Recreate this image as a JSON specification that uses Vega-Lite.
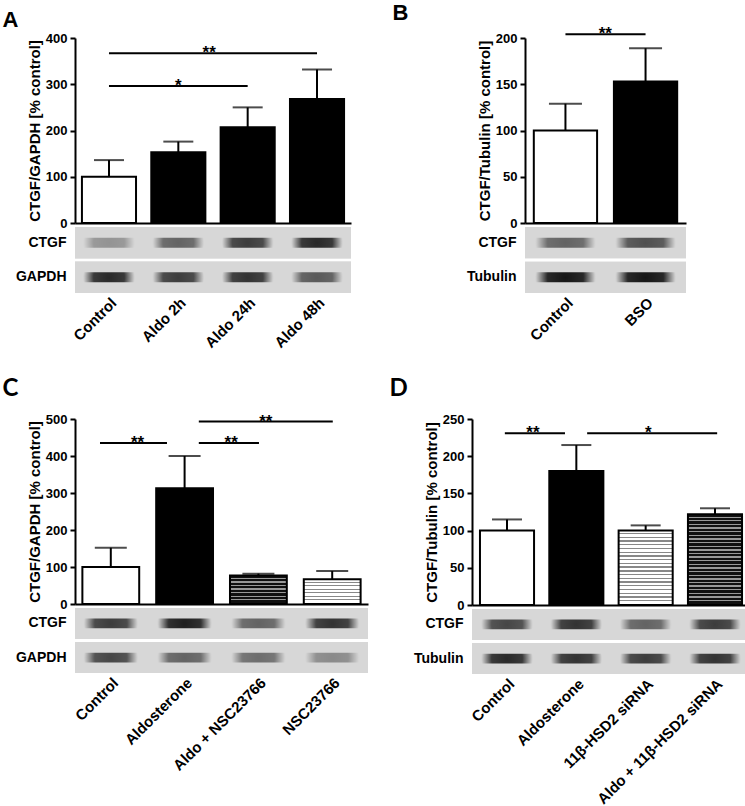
{
"$schema": "https://vega.github.io/schema/vega-lite/v6.json",
"background": "white",
"padding": {"left": 2, "top": 2, "right": 0, "bottom": 0},
"config": {
  "font": "Liberation Sans",
  "view": {"stroke": null},
  "axis": {"labelFont": "Liberation Sans", "labelFontWeight": "bold", "labelColor": "#000", "labelFontSize": 13, "titleFont": "Liberation Sans", "titleFontWeight": "bold", "titleColor": "#000", "titleFontSize": 15, "domainColor": "#000", "tickColor": "#000", "domainWidth": 2, "tickWidth": 2, "tickSize": 5, "grid": false},
  "title": {"font": "Liberation Sans", "fontWeight": "bold", "fontSize": 22, "anchor": "start", "color": "#000"}
},
"spacing": 25,
"vconcat": [
 {"spacing": 41, "hconcat": [
  {"title": {"text": "A", "dx": -13, "offset": 0}, "spacing": 4, "bounds": "flush", "vconcat": [
   {"width": 276, "height": 185,
    "data": {"values": [
      {"group": "Control", "value": 100, "err": 136},
      {"group": "Aldo 2h", "value": 153, "err": 176},
      {"group": "Aldo 24h", "value": 207, "err": 250},
      {"group": "Aldo 48h", "value": 268, "err": 332}]},
    "encoding": {
      "x": {"field": "group", "type": "nominal", "sort": null, "scale": {"domain": ["Control", "Aldo 2h", "Aldo 24h", "Aldo 48h"], "paddingInner": 0.22, "paddingOuter": 0.1}, "axis": {"labels": false, "ticks": false, "title": null}},
      "y": {"field": "value", "type": "quantitative", "title": "CTGF/GAPDH [% control]", "scale": {"domain": [0, 400], "nice": false}, "axis": {"values": [0, 100, 200, 300, 400], "labelPadding": 3, "titlePadding": 3}}
    },
    "layer": [
      {"transform": [{"filter": {"field": "group", "equal": "Control"}}], "mark": {"type": "bar", "fill": "white", "stroke": "black", "strokeWidth": 2}},
      {"transform": [{"filter": {"field": "group", "oneOf": ["Aldo 2h", "Aldo 24h", "Aldo 48h"]}}], "mark": {"type": "bar", "fill": "black", "stroke": "black", "strokeWidth": 2}},
      {"mark": {"type": "rule", "color": "black", "strokeWidth": 2}, "encoding": {"y2": {"field": "err"}}},
      {"mark": {"type": "tick", "color": "black", "size": 30, "thickness": 2}, "encoding": {"y": {"field": "err", "type": "quantitative", "title": "CTGF/GAPDH [% control]"}}},
      {"data": {"values": [
        {"from": "Control", "to": "Aldo 24h", "mid": "Aldo 2h", "y": 296, "label": "*"},
        {"from": "Control", "to": "Aldo 48h", "mid": "Aldo 2h", "y": 367, "label": "**"}]},
       "layer": [
        {"mark": {"type": "rule", "color": "black", "strokeWidth": 2}, "encoding": {"x": {"field": "from", "type": "nominal", "bandPosition": 0.5}, "x2": {"field": "to", "bandPosition": 0.5}, "y": {"field": "y", "type": "quantitative", "title": "CTGF/GAPDH [% control]"}}},
        {"transform": [{"filter": {"field": "label", "equal": "*"}}], "mark": {"type": "text", "fontSize": 17, "fontWeight": "bold", "baseline": "alphabetic", "dy": 5}, "encoding": {"x": {"field": "mid", "type": "nominal", "bandPosition": 0.5}, "y": {"field": "y", "type": "quantitative", "title": "CTGF/GAPDH [% control]"}, "text": {"field": "label"}}},
        {"transform": [{"filter": {"field": "label", "equal": "**"}}], "mark": {"type": "text", "fontSize": 17, "fontWeight": "bold", "baseline": "alphabetic", "dy": 5}, "encoding": {"x": {"field": "mid", "type": "nominal", "bandPosition": 1.07}, "y": {"field": "y", "type": "quantitative", "title": "CTGF/GAPDH [% control]"}, "text": {"field": "label"}}}
       ]}
    ]},
   {"width": 276, "height": 66,
    "data": {"values": [
      {"lane": "Control", "protein": "CTGF", "intensity": 0.35},
      {"lane": "Aldo 2h", "protein": "CTGF", "intensity": 0.6},
      {"lane": "Aldo 24h", "protein": "CTGF", "intensity": 0.8},
      {"lane": "Aldo 48h", "protein": "CTGF", "intensity": 0.9},
      {"lane": "Control", "protein": "GAPDH", "intensity": 0.9},
      {"lane": "Aldo 2h", "protein": "GAPDH", "intensity": 0.8},
      {"lane": "Aldo 24h", "protein": "GAPDH", "intensity": 0.85},
      {"lane": "Aldo 48h", "protein": "GAPDH", "intensity": 0.65}]},
    "encoding": {"y": {"field": "protein", "type": "nominal", "sort": null, "scale": {"domain": ["CTGF", "GAPDH"], "paddingInner": 0.1, "paddingOuter": 0}, "axis": {"title": null, "domain": false, "ticks": false, "labelPadding": 9, "labelFontSize": 14}}},
    "layer": [
      {"mark": {"type": "rect", "fill": "#d7d7d7"}},
      {"mark": {"type": "rect", "width": {"band": 0.95}, "height": {"band": 0.32}, "fill": {"gradient": "radial", "x1": 0.5, "y1": 0.5, "r1": 0, "x2": 0.5, "y2": 0.5, "r2": 0.5, "stops": [{"offset": 0, "color": "#151515"}, {"offset": 0.6, "color": "rgba(21,21,21,0.9)"}, {"offset": 1, "color": "rgba(21,21,21,0)"}]}},
       "encoding": {"x": {"field": "lane", "type": "nominal", "sort": null, "scale": {"domain": ["Control", "Aldo 2h", "Aldo 24h", "Aldo 48h"], "paddingInner": 0.22, "paddingOuter": 0.1}, "axis": {"title": null, "domain": false, "ticks": false, "labelAngle": -45, "labelFontSize": 15, "labelPadding": 2}},
        "opacity": {"field": "intensity", "type": "quantitative", "scale": null, "legend": null}}}
    ]}
  ]},
  {"title": {"text": "B", "dx": -74, "offset": 0}, "spacing": 4, "bounds": "flush", "vconcat": [
   {"width": 161, "height": 185,
    "data": {"values": [
      {"group": "Control", "value": 100, "err": 129},
      {"group": "BSO", "value": 153, "err": 189}]},
    "encoding": {
      "x": {"field": "group", "type": "nominal", "sort": null, "scale": {"domain": ["Control", "BSO"], "paddingInner": 0.21, "paddingOuter": 0.11}, "axis": {"labels": false, "ticks": false, "title": null}},
      "y": {"field": "value", "type": "quantitative", "title": "CTGF/Tubulin [% control]", "scale": {"domain": [0, 200], "nice": false}, "axis": {"values": [0, 50, 100, 150, 200], "labelPadding": 3, "titlePadding": 3}}
    },
    "layer": [
      {"transform": [{"filter": {"field": "group", "equal": "Control"}}], "mark": {"type": "bar", "fill": "white", "stroke": "black", "strokeWidth": 2}},
      {"transform": [{"filter": {"field": "group", "equal": "BSO"}}], "mark": {"type": "bar", "fill": "black", "stroke": "black", "strokeWidth": 2}},
      {"mark": {"type": "rule", "color": "black", "strokeWidth": 2}, "encoding": {"y2": {"field": "err"}}},
      {"mark": {"type": "tick", "color": "black", "size": 33, "thickness": 2}, "encoding": {"y": {"field": "err", "type": "quantitative", "title": "CTGF/Tubulin [% control]"}}},
      {"data": {"values": [{"from": "Control", "to": "BSO", "y": 204, "label": "**"}]},
       "layer": [
        {"mark": {"type": "rule", "color": "black", "strokeWidth": 2}, "encoding": {"x": {"field": "from", "type": "nominal", "bandPosition": 0.5}, "x2": {"field": "to", "bandPosition": 0.5}, "y": {"field": "y", "type": "quantitative", "title": "CTGF/Tubulin [% control]"}}},
        {"mark": {"type": "text", "fontSize": 17, "fontWeight": "bold", "baseline": "alphabetic", "dy": 5}, "encoding": {"x": {"field": "from", "type": "nominal", "bandPosition": 1.13}, "y": {"field": "y", "type": "quantitative", "title": "CTGF/Tubulin [% control]"}, "text": {"field": "label"}}}
       ]}
    ]},
   {"width": 161, "height": 66,
    "data": {"values": [
      {"lane": "Control", "protein": "CTGF", "intensity": 0.6},
      {"lane": "BSO", "protein": "CTGF", "intensity": 0.7},
      {"lane": "Control", "protein": "Tubulin", "intensity": 1.0},
      {"lane": "BSO", "protein": "Tubulin", "intensity": 1.0}]},
    "encoding": {"y": {"field": "protein", "type": "nominal", "sort": null, "scale": {"domain": ["CTGF", "Tubulin"], "paddingInner": 0.1, "paddingOuter": 0}, "axis": {"title": null, "domain": false, "ticks": false, "labelPadding": 9, "labelFontSize": 14}}},
    "layer": [
      {"mark": {"type": "rect", "fill": "#d7d7d7"}},
      {"mark": {"type": "rect", "width": {"band": 0.95}, "height": {"band": 0.32}, "fill": {"gradient": "radial", "x1": 0.5, "y1": 0.5, "r1": 0, "x2": 0.5, "y2": 0.5, "r2": 0.5, "stops": [{"offset": 0, "color": "#151515"}, {"offset": 0.6, "color": "rgba(21,21,21,0.9)"}, {"offset": 1, "color": "rgba(21,21,21,0)"}]}},
       "encoding": {"x": {"field": "lane", "type": "nominal", "sort": null, "scale": {"domain": ["Control", "BSO"], "paddingInner": 0.21, "paddingOuter": 0.11}, "axis": {"title": null, "domain": false, "ticks": false, "labelAngle": -45, "labelFontSize": 15, "labelPadding": 2}},
        "opacity": {"field": "intensity", "type": "quantitative", "scale": null, "legend": null}}}
    ]}
  ]}
 ]},
 {"spacing": 21, "hconcat": [
  {"title": {"text": "C", "dx": -13, "offset": 12, "font": "Lato", "fontSize": 24}, "spacing": 4, "bounds": "flush", "vconcat": [
   {"width": 293, "height": 185,
    "data": {"values": [
      {"group": "Control", "value": 100, "err": 152},
      {"group": "Aldosterone", "value": 313, "err": 400},
      {"group": "Aldo + NSC23766", "value": 77, "err": 82},
      {"group": "NSC23766", "value": 67, "err": 89}]},
    "encoding": {
      "x": {"field": "group", "type": "nominal", "sort": null, "scale": {"domain": ["Control", "Aldosterone", "Aldo + NSC23766", "NSC23766"], "paddingInner": 0.23, "paddingOuter": 0.1}, "axis": {"labels": false, "ticks": false, "title": null}},
      "y": {"field": "value", "type": "quantitative", "title": "CTGF/GAPDH [% control]", "scale": {"domain": [0, 500], "nice": false}, "axis": {"values": [0, 100, 200, 300, 400, 500], "labelPadding": 3, "titlePadding": 3}}
    },
    "layer": [
      {"transform": [{"filter": {"field": "group", "equal": "Control"}}], "mark": {"type": "bar", "fill": "white", "stroke": "black", "strokeWidth": 2}},
      {"transform": [{"filter": {"field": "group", "equal": "Aldosterone"}}], "mark": {"type": "bar", "fill": "black", "stroke": "black", "strokeWidth": 2}},
      {"transform": [{"filter": {"field": "group", "equal": "Aldo + NSC23766"}}], "mark": {"type": "bar", "stroke": "black", "strokeWidth": 2, "fill": {"gradient": "linear", "x1": 0, "y1": 0, "x2": 0, "y2": 1, "stops": [
        {"offset": 0, "color": "#111"}, {"offset": 0.0775, "color": "#111"}, {"offset": 0.0775, "color": "#999"}, {"offset": 0.125, "color": "#999"},
        {"offset": 0.125, "color": "#111"}, {"offset": 0.2025, "color": "#111"}, {"offset": 0.2025, "color": "#999"}, {"offset": 0.25, "color": "#999"},
        {"offset": 0.25, "color": "#111"}, {"offset": 0.3275, "color": "#111"}, {"offset": 0.3275, "color": "#999"}, {"offset": 0.375, "color": "#999"},
        {"offset": 0.375, "color": "#111"}, {"offset": 0.4525, "color": "#111"}, {"offset": 0.4525, "color": "#999"}, {"offset": 0.5, "color": "#999"},
        {"offset": 0.5, "color": "#111"}, {"offset": 0.5775, "color": "#111"}, {"offset": 0.5775, "color": "#999"}, {"offset": 0.625, "color": "#999"},
        {"offset": 0.625, "color": "#111"}, {"offset": 0.7025, "color": "#111"}, {"offset": 0.7025, "color": "#999"}, {"offset": 0.75, "color": "#999"},
        {"offset": 0.75, "color": "#111"}, {"offset": 0.8275, "color": "#111"}, {"offset": 0.8275, "color": "#999"}, {"offset": 0.875, "color": "#999"},
        {"offset": 0.875, "color": "#111"}, {"offset": 0.9525, "color": "#111"}, {"offset": 0.9525, "color": "#999"}, {"offset": 1, "color": "#999"}]}}},
      {"transform": [{"filter": {"field": "group", "equal": "NSC23766"}}], "mark": {"type": "bar", "stroke": "black", "strokeWidth": 2, "fill": {"gradient": "linear", "x1": 0, "y1": 0, "x2": 0, "y2": 1, "stops": [
        {"offset": 0, "color": "#fff"}, {"offset": 0.093, "color": "#fff"}, {"offset": 0.093, "color": "#888"}, {"offset": 0.143, "color": "#888"},
        {"offset": 0.143, "color": "#fff"}, {"offset": 0.236, "color": "#fff"}, {"offset": 0.236, "color": "#888"}, {"offset": 0.286, "color": "#888"},
        {"offset": 0.286, "color": "#fff"}, {"offset": 0.379, "color": "#fff"}, {"offset": 0.379, "color": "#888"}, {"offset": 0.429, "color": "#888"},
        {"offset": 0.429, "color": "#fff"}, {"offset": 0.522, "color": "#fff"}, {"offset": 0.522, "color": "#888"}, {"offset": 0.571, "color": "#888"},
        {"offset": 0.571, "color": "#fff"}, {"offset": 0.664, "color": "#fff"}, {"offset": 0.664, "color": "#888"}, {"offset": 0.714, "color": "#888"},
        {"offset": 0.714, "color": "#fff"}, {"offset": 0.807, "color": "#fff"}, {"offset": 0.807, "color": "#888"}, {"offset": 0.857, "color": "#888"},
        {"offset": 0.857, "color": "#fff"}, {"offset": 0.95, "color": "#fff"}, {"offset": 0.95, "color": "#888"}, {"offset": 1, "color": "#888"}]}}},
      {"mark": {"type": "rule", "color": "black", "strokeWidth": 2}, "encoding": {"y2": {"field": "err"}}},
      {"mark": {"type": "tick", "color": "black", "size": 32, "thickness": 2}, "encoding": {"y": {"field": "err", "type": "quantitative", "title": "CTGF/GAPDH [% control]"}}},
      {"data": {"values": [
        {"from": "Control", "to": "Aldosterone", "y": 435, "label": "**"},
        {"from": "Aldosterone", "to": "Aldo + NSC23766", "y": 435, "label": "**"},
        {"from": "Aldosterone", "to": "NSC23766", "y": 493, "label": "**"}]},
       "layer": [
        {"transform": [{"filter": {"field": "from", "equal": "Control"}}], "mark": {"type": "rule", "color": "black", "strokeWidth": 2}, "encoding": {"x": {"field": "from", "type": "nominal", "bandPosition": 0.31}, "x2": {"field": "to", "bandPosition": 0.19}, "y": {"field": "y", "type": "quantitative", "title": "CTGF/GAPDH [% control]"}}},
        {"transform": [{"filter": {"field": "from", "equal": "Aldosterone"}}], "mark": {"type": "rule", "color": "black", "strokeWidth": 2}, "encoding": {"x": {"field": "from", "type": "nominal", "bandPosition": 0.75}, "x2": {"field": "to", "bandPosition": 0.51}, "y": {"field": "y", "type": "quantitative", "title": "CTGF/GAPDH [% control]"}}},
        {"transform": [{"filter": {"field": "from", "equal": "Control"}}], "mark": {"type": "text", "fontSize": 17, "fontWeight": "bold", "baseline": "alphabetic", "dy": 5}, "encoding": {"x": {"field": "from", "type": "nominal", "bandPosition": 0.97}, "y": {"field": "y", "type": "quantitative", "title": "CTGF/GAPDH [% control]"}, "text": {"field": "label"}}},
        {"transform": [{"filter": {"field": "to", "equal": "Aldo + NSC23766"}}], "mark": {"type": "text", "fontSize": 17, "fontWeight": "bold", "baseline": "alphabetic", "dy": 5}, "encoding": {"x": {"field": "from", "type": "nominal", "bandPosition": 1.32}, "y": {"field": "y", "type": "quantitative", "title": "CTGF/GAPDH [% control]"}, "text": {"field": "label"}}},
        {"transform": [{"filter": {"field": "to", "equal": "NSC23766"}}], "mark": {"type": "text", "fontSize": 17, "fontWeight": "bold", "baseline": "alphabetic", "dy": 5}, "encoding": {"x": {"field": "from", "type": "nominal", "bandPosition": 1.93}, "y": {"field": "y", "type": "quantitative", "title": "CTGF/GAPDH [% control]"}, "text": {"field": "label"}}}
       ]}
    ]},
   {"width": 293, "height": 65,
    "data": {"values": [
      {"lane": "Control", "protein": "CTGF", "intensity": 0.8},
      {"lane": "Aldosterone", "protein": "CTGF", "intensity": 0.95},
      {"lane": "Aldo + NSC23766", "protein": "CTGF", "intensity": 0.6},
      {"lane": "NSC23766", "protein": "CTGF", "intensity": 0.85},
      {"lane": "Control", "protein": "GAPDH", "intensity": 0.75},
      {"lane": "Aldosterone", "protein": "GAPDH", "intensity": 0.6},
      {"lane": "Aldo + NSC23766", "protein": "GAPDH", "intensity": 0.55},
      {"lane": "NSC23766", "protein": "GAPDH", "intensity": 0.4}]},
    "encoding": {"y": {"field": "protein", "type": "nominal", "sort": null, "scale": {"domain": ["CTGF", "GAPDH"], "paddingInner": 0.1, "paddingOuter": 0}, "axis": {"title": null, "domain": false, "ticks": false, "labelPadding": 9, "labelFontSize": 14}}},
    "layer": [
      {"mark": {"type": "rect", "fill": "#d7d7d7"}},
      {"mark": {"type": "rect", "width": {"band": 0.95}, "height": {"band": 0.32}, "fill": {"gradient": "radial", "x1": 0.5, "y1": 0.5, "r1": 0, "x2": 0.5, "y2": 0.5, "r2": 0.5, "stops": [{"offset": 0, "color": "#151515"}, {"offset": 0.6, "color": "rgba(21,21,21,0.9)"}, {"offset": 1, "color": "rgba(21,21,21,0)"}]}},
       "encoding": {"x": {"field": "lane", "type": "nominal", "sort": null, "scale": {"domain": ["Control", "Aldosterone", "Aldo + NSC23766", "NSC23766"], "paddingInner": 0.23, "paddingOuter": 0.1}, "axis": {"title": null, "domain": false, "ticks": false, "labelAngle": -45, "labelFontSize": 15, "labelPadding": 2}},
        "opacity": {"field": "intensity", "type": "quantitative", "scale": null, "legend": null}}}
    ]}
  ]},
  {"title": {"text": "D", "dx": -24, "offset": 12, "font": "Lato", "fontSize": 24}, "spacing": 4, "bounds": "flush", "vconcat": [
   {"width": 278, "height": 186,
    "data": {"values": [
      {"group": "Control", "value": 100, "err": 115},
      {"group": "Aldosterone", "value": 180, "err": 215},
      {"group": "11β-HSD2 siRNA", "value": 100, "err": 107},
      {"group": "Aldo + 11β-HSD2 siRNA", "value": 122, "err": 130}]},
    "encoding": {
      "x": {"field": "group", "type": "nominal", "sort": null, "scale": {"domain": ["Control", "Aldosterone", "11β-HSD2 siRNA", "Aldo + 11β-HSD2 siRNA"], "paddingInner": 0.22, "paddingOuter": 0.115}, "axis": {"labels": false, "ticks": false, "title": null}},
      "y": {"field": "value", "type": "quantitative", "title": "CTGF/Tubulin [% control]", "scale": {"domain": [0, 250], "nice": false}, "axis": {"values": [0, 50, 100, 150, 200, 250], "labelPadding": 3, "titlePadding": 3}}
    },
    "layer": [
      {"transform": [{"filter": {"field": "group", "equal": "Control"}}], "mark": {"type": "bar", "fill": "white", "stroke": "black", "strokeWidth": 2}},
      {"transform": [{"filter": {"field": "group", "equal": "Aldosterone"}}], "mark": {"type": "bar", "fill": "black", "stroke": "black", "strokeWidth": 2}},
      {"transform": [{"filter": {"field": "group", "equal": "11β-HSD2 siRNA"}}], "mark": {"type": "bar", "stroke": "black", "strokeWidth": 2, "fill": {"gradient": "linear", "x1": 0, "y1": 0, "x2": 0, "y2": 1, "stops": [
        {"offset": 0, "color": "#fff"}, {"offset": 0.0325, "color": "#fff"}, {"offset": 0.0325, "color": "#888"}, {"offset": 0.05, "color": "#888"},
        {"offset": 0.05, "color": "#fff"}, {"offset": 0.0825, "color": "#fff"}, {"offset": 0.0825, "color": "#888"}, {"offset": 0.1, "color": "#888"},
        {"offset": 0.1, "color": "#fff"}, {"offset": 0.1325, "color": "#fff"}, {"offset": 0.1325, "color": "#888"}, {"offset": 0.15, "color": "#888"},
        {"offset": 0.15, "color": "#fff"}, {"offset": 0.1825, "color": "#fff"}, {"offset": 0.1825, "color": "#888"}, {"offset": 0.2, "color": "#888"},
        {"offset": 0.2, "color": "#fff"}, {"offset": 0.2325, "color": "#fff"}, {"offset": 0.2325, "color": "#888"}, {"offset": 0.25, "color": "#888"},
        {"offset": 0.25, "color": "#fff"}, {"offset": 0.2825, "color": "#fff"}, {"offset": 0.2825, "color": "#888"}, {"offset": 0.3, "color": "#888"},
        {"offset": 0.3, "color": "#fff"}, {"offset": 0.3325, "color": "#fff"}, {"offset": 0.3325, "color": "#888"}, {"offset": 0.35, "color": "#888"},
        {"offset": 0.35, "color": "#fff"}, {"offset": 0.3825, "color": "#fff"}, {"offset": 0.3825, "color": "#888"}, {"offset": 0.4, "color": "#888"},
        {"offset": 0.4, "color": "#fff"}, {"offset": 0.4325, "color": "#fff"}, {"offset": 0.4325, "color": "#888"}, {"offset": 0.45, "color": "#888"},
        {"offset": 0.45, "color": "#fff"}, {"offset": 0.4825, "color": "#fff"}, {"offset": 0.4825, "color": "#888"}, {"offset": 0.5, "color": "#888"},
        {"offset": 0.5, "color": "#fff"}, {"offset": 0.5325, "color": "#fff"}, {"offset": 0.5325, "color": "#888"}, {"offset": 0.55, "color": "#888"},
        {"offset": 0.55, "color": "#fff"}, {"offset": 0.5825, "color": "#fff"}, {"offset": 0.5825, "color": "#888"}, {"offset": 0.6, "color": "#888"},
        {"offset": 0.6, "color": "#fff"}, {"offset": 0.6325, "color": "#fff"}, {"offset": 0.6325, "color": "#888"}, {"offset": 0.65, "color": "#888"},
        {"offset": 0.65, "color": "#fff"}, {"offset": 0.6825, "color": "#fff"}, {"offset": 0.6825, "color": "#888"}, {"offset": 0.7, "color": "#888"},
        {"offset": 0.7, "color": "#fff"}, {"offset": 0.7325, "color": "#fff"}, {"offset": 0.7325, "color": "#888"}, {"offset": 0.75, "color": "#888"},
        {"offset": 0.75, "color": "#fff"}, {"offset": 0.7825, "color": "#fff"}, {"offset": 0.7825, "color": "#888"}, {"offset": 0.8, "color": "#888"},
        {"offset": 0.8, "color": "#fff"}, {"offset": 0.8325, "color": "#fff"}, {"offset": 0.8325, "color": "#888"}, {"offset": 0.85, "color": "#888"},
        {"offset": 0.85, "color": "#fff"}, {"offset": 0.8825, "color": "#fff"}, {"offset": 0.8825, "color": "#888"}, {"offset": 0.9, "color": "#888"},
        {"offset": 0.9, "color": "#fff"}, {"offset": 0.9325, "color": "#fff"}, {"offset": 0.9325, "color": "#888"}, {"offset": 0.95, "color": "#888"},
        {"offset": 0.95, "color": "#fff"}, {"offset": 0.9825, "color": "#fff"}, {"offset": 0.9825, "color": "#888"}, {"offset": 1, "color": "#888"}]}}},
      {"transform": [{"filter": {"field": "group", "equal": "Aldo + 11β-HSD2 siRNA"}}], "mark": {"type": "bar", "stroke": "black", "strokeWidth": 2, "fill": {"gradient": "linear", "x1": 0, "y1": 0, "x2": 0, "y2": 1, "stops": [
        {"offset": 0, "color": "#111"}, {"offset": 0.025, "color": "#111"}, {"offset": 0.025, "color": "#999"}, {"offset": 0.04, "color": "#999"},
        {"offset": 0.04, "color": "#111"}, {"offset": 0.065, "color": "#111"}, {"offset": 0.065, "color": "#999"}, {"offset": 0.08, "color": "#999"},
        {"offset": 0.08, "color": "#111"}, {"offset": 0.105, "color": "#111"}, {"offset": 0.105, "color": "#999"}, {"offset": 0.12, "color": "#999"},
        {"offset": 0.12, "color": "#111"}, {"offset": 0.145, "color": "#111"}, {"offset": 0.145, "color": "#999"}, {"offset": 0.16, "color": "#999"},
        {"offset": 0.16, "color": "#111"}, {"offset": 0.185, "color": "#111"}, {"offset": 0.185, "color": "#999"}, {"offset": 0.2, "color": "#999"},
        {"offset": 0.2, "color": "#111"}, {"offset": 0.225, "color": "#111"}, {"offset": 0.225, "color": "#999"}, {"offset": 0.24, "color": "#999"},
        {"offset": 0.24, "color": "#111"}, {"offset": 0.265, "color": "#111"}, {"offset": 0.265, "color": "#999"}, {"offset": 0.28, "color": "#999"},
        {"offset": 0.28, "color": "#111"}, {"offset": 0.305, "color": "#111"}, {"offset": 0.305, "color": "#999"}, {"offset": 0.32, "color": "#999"},
        {"offset": 0.32, "color": "#111"}, {"offset": 0.345, "color": "#111"}, {"offset": 0.345, "color": "#999"}, {"offset": 0.36, "color": "#999"},
        {"offset": 0.36, "color": "#111"}, {"offset": 0.385, "color": "#111"}, {"offset": 0.385, "color": "#999"}, {"offset": 0.4, "color": "#999"},
        {"offset": 0.4, "color": "#111"}, {"offset": 0.425, "color": "#111"}, {"offset": 0.425, "color": "#999"}, {"offset": 0.44, "color": "#999"},
        {"offset": 0.44, "color": "#111"}, {"offset": 0.465, "color": "#111"}, {"offset": 0.465, "color": "#999"}, {"offset": 0.48, "color": "#999"},
        {"offset": 0.48, "color": "#111"}, {"offset": 0.505, "color": "#111"}, {"offset": 0.505, "color": "#999"}, {"offset": 0.52, "color": "#999"},
        {"offset": 0.52, "color": "#111"}, {"offset": 0.545, "color": "#111"}, {"offset": 0.545, "color": "#999"}, {"offset": 0.56, "color": "#999"},
        {"offset": 0.56, "color": "#111"}, {"offset": 0.585, "color": "#111"}, {"offset": 0.585, "color": "#999"}, {"offset": 0.6, "color": "#999"},
        {"offset": 0.6, "color": "#111"}, {"offset": 0.625, "color": "#111"}, {"offset": 0.625, "color": "#999"}, {"offset": 0.64, "color": "#999"},
        {"offset": 0.64, "color": "#111"}, {"offset": 0.665, "color": "#111"}, {"offset": 0.665, "color": "#999"}, {"offset": 0.68, "color": "#999"},
        {"offset": 0.68, "color": "#111"}, {"offset": 0.705, "color": "#111"}, {"offset": 0.705, "color": "#999"}, {"offset": 0.72, "color": "#999"},
        {"offset": 0.72, "color": "#111"}, {"offset": 0.745, "color": "#111"}, {"offset": 0.745, "color": "#999"}, {"offset": 0.76, "color": "#999"},
        {"offset": 0.76, "color": "#111"}, {"offset": 0.785, "color": "#111"}, {"offset": 0.785, "color": "#999"}, {"offset": 0.8, "color": "#999"},
        {"offset": 0.8, "color": "#111"}, {"offset": 0.825, "color": "#111"}, {"offset": 0.825, "color": "#999"}, {"offset": 0.84, "color": "#999"},
        {"offset": 0.84, "color": "#111"}, {"offset": 0.865, "color": "#111"}, {"offset": 0.865, "color": "#999"}, {"offset": 0.88, "color": "#999"},
        {"offset": 0.88, "color": "#111"}, {"offset": 0.905, "color": "#111"}, {"offset": 0.905, "color": "#999"}, {"offset": 0.92, "color": "#999"},
        {"offset": 0.92, "color": "#111"}, {"offset": 0.945, "color": "#111"}, {"offset": 0.945, "color": "#999"}, {"offset": 0.96, "color": "#999"},
        {"offset": 0.96, "color": "#111"}, {"offset": 0.985, "color": "#111"}, {"offset": 0.985, "color": "#999"}, {"offset": 1, "color": "#999"}]}}},
      {"mark": {"type": "rule", "color": "black", "strokeWidth": 2}, "encoding": {"y2": {"field": "err"}}},
      {"mark": {"type": "tick", "color": "black", "size": 30, "thickness": 2}, "encoding": {"y": {"field": "err", "type": "quantitative", "title": "CTGF/Tubulin [% control]"}}},
      {"data": {"values": [
        {"from": "Control", "to": "Aldosterone", "y": 231, "label": "**"},
        {"from": "Aldosterone", "to": "Aldo + 11β-HSD2 siRNA", "y": 231, "label": "*"}]},
       "layer": [
        {"transform": [{"filter": {"field": "from", "equal": "Control"}}], "mark": {"type": "rule", "color": "black", "strokeWidth": 2}, "encoding": {"x": {"field": "from", "type": "nominal", "bandPosition": 0.46}, "x2": {"field": "to", "bandPosition": 0.29}, "y": {"field": "y", "type": "quantitative", "title": "CTGF/Tubulin [% control]"}}},
        {"transform": [{"filter": {"field": "from", "equal": "Aldosterone"}}], "mark": {"type": "rule", "color": "black", "strokeWidth": 2}, "encoding": {"x": {"field": "from", "type": "nominal", "bandPosition": 0.7}, "x2": {"field": "to", "bandPosition": 0.54}, "y": {"field": "y", "type": "quantitative", "title": "CTGF/Tubulin [% control]"}}},
        {"transform": [{"filter": {"field": "from", "equal": "Control"}}], "mark": {"type": "text", "fontSize": 17, "fontWeight": "bold", "baseline": "alphabetic", "dy": 5}, "encoding": {"x": {"field": "from", "type": "nominal", "bandPosition": 0.98}, "y": {"field": "y", "type": "quantitative", "title": "CTGF/Tubulin [% control]"}, "text": {"field": "label"}}},
        {"transform": [{"filter": {"field": "from", "equal": "Aldosterone"}}], "mark": {"type": "text", "fontSize": 17, "fontWeight": "bold", "baseline": "alphabetic", "dy": 5}, "encoding": {"x": {"field": "from", "type": "nominal", "bandPosition": 1.83}, "y": {"field": "y", "type": "quantitative", "title": "CTGF/Tubulin [% control]"}, "text": {"field": "label"}}}
       ]}
    ]},
   {"width": 278, "height": 65,
    "data": {"values": [
      {"lane": "Control", "protein": "CTGF", "intensity": 0.75},
      {"lane": "Aldosterone", "protein": "CTGF", "intensity": 0.85},
      {"lane": "11β-HSD2 siRNA", "protein": "CTGF", "intensity": 0.6},
      {"lane": "Aldo + 11β-HSD2 siRNA", "protein": "CTGF", "intensity": 0.8},
      {"lane": "Control", "protein": "Tubulin", "intensity": 0.9},
      {"lane": "Aldosterone", "protein": "Tubulin", "intensity": 0.85},
      {"lane": "11β-HSD2 siRNA", "protein": "Tubulin", "intensity": 0.8},
      {"lane": "Aldo + 11β-HSD2 siRNA", "protein": "Tubulin", "intensity": 0.85}]},
    "encoding": {"y": {"field": "protein", "type": "nominal", "sort": null, "scale": {"domain": ["CTGF", "Tubulin"], "paddingInner": 0.1, "paddingOuter": 0}, "axis": {"title": null, "domain": false, "ticks": false, "labelPadding": 9, "labelFontSize": 14}}},
    "layer": [
      {"mark": {"type": "rect", "fill": "#d7d7d7"}},
      {"mark": {"type": "rect", "width": {"band": 0.95}, "height": {"band": 0.32}, "fill": {"gradient": "radial", "x1": 0.5, "y1": 0.5, "r1": 0, "x2": 0.5, "y2": 0.5, "r2": 0.5, "stops": [{"offset": 0, "color": "#151515"}, {"offset": 0.6, "color": "rgba(21,21,21,0.9)"}, {"offset": 1, "color": "rgba(21,21,21,0)"}]}},
       "encoding": {"x": {"field": "lane", "type": "nominal", "sort": null, "scale": {"domain": ["Control", "Aldosterone", "11β-HSD2 siRNA", "Aldo + 11β-HSD2 siRNA"], "paddingInner": 0.22, "paddingOuter": 0.115}, "axis": {"title": null, "domain": false, "ticks": false, "labelAngle": -45, "labelFontSize": 15, "labelPadding": 2}},
        "opacity": {"field": "intensity", "type": "quantitative", "scale": null, "legend": null}}}
    ]}
  ]}
 ]}
]
}
